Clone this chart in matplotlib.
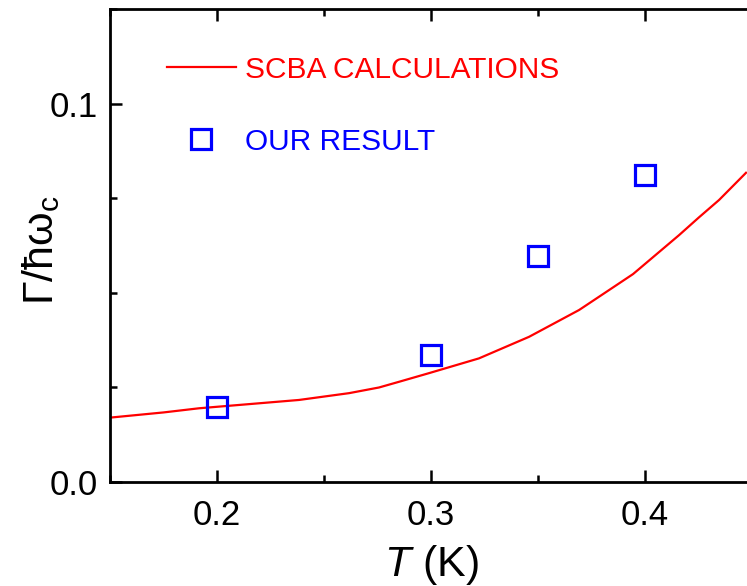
import numpy as np
import matplotlib
matplotlib.use("Agg")
import matplotlib.pyplot as plt
from matplotlib.ticker import MultipleLocator, FormatStrFormatter

plt.rcParams['font.family'] = ['Liberation Sans', 'DejaVu Sans']
plt.rcParams['mathtext.fontset'] = 'custom'
plt.rcParams['mathtext.rm'] = 'Liberation Sans'
plt.rcParams['mathtext.it'] = 'Liberation Sans:italic'

# SCBA curve, broadening vs temperature
T_scba = [0.1495, 0.175, 0.1916, 0.215, 0.2383, 0.2617, 0.2757, 0.285, 0.2991,
          0.3224, 0.3458, 0.3692, 0.3785, 0.3944, 0.4159, 0.4252, 0.4346, 0.4472]
G_scba = [0.0170, 0.0184, 0.0195, 0.0206, 0.0217, 0.0235, 0.0250, 0.0265, 0.0288,
          0.0327, 0.0384, 0.0455, 0.0490, 0.0550, 0.0653, 0.0700, 0.0746, 0.0818]

# our points
T_ours = [0.20, 0.30, 0.35, 0.40]
G_ours = [0.0199, 0.0337, 0.0598, 0.0812]

fig = plt.figure(figsize=(7.47, 5.86), dpi=100)
ax = fig.add_axes([0.1473, 0.1775, 0.8594, 0.8063])

ax.plot(T_scba, G_scba, color='red', lw=1.6, label='SCBA CALCULATIONS')
ax.plot(T_ours, G_ours, ls='none', marker='s', ms=14.3, mfc='none', mec='blue',
        mew=2.3, label='OUR RESULT')

ax.set_xlim(0.15, 0.45)
ax.set_ylim(0, 0.125)
ax.xaxis.set_major_locator(MultipleLocator(0.1))
ax.xaxis.set_minor_locator(MultipleLocator(0.05))
ax.yaxis.set_major_locator(MultipleLocator(0.1))
ax.yaxis.set_minor_locator(MultipleLocator(0.025))
ax.xaxis.set_major_formatter(FormatStrFormatter('%.1f'))
ax.yaxis.set_major_formatter(FormatStrFormatter('%.1f'))

ax.tick_params(which='both', direction='in', top=True, right=False, width=1.8)
ax.tick_params(which='major', length=8.5, labelsize=25)
ax.tick_params(axis='x', which='major', pad=12)
ax.tick_params(axis='y', which='major', pad=9)
ax.tick_params(which='minor', length=5)
for s in ax.spines.values():
    s.set_linewidth(2)

ax.set_xlabel(r'$\mathit{T}$ (K)', fontsize=31, labelpad=8)
ax.set_ylabel('Γ/ħω$_\\mathregular{c}$', fontsize=31)
ax.yaxis.set_label_coords(-0.075, 0.49)

leg = ax.legend(loc='upper left', bbox_to_anchor=(0.07, 0.927), frameon=False,
                fontsize=21.5, handlelength=2.3, handletextpad=0.3,
                labelspacing=1.47, borderaxespad=0)
for txt, c in zip(leg.get_texts(), ['red', 'blue']):
    txt.set_color(c)

fig.savefig('out.png', dpi=100)
